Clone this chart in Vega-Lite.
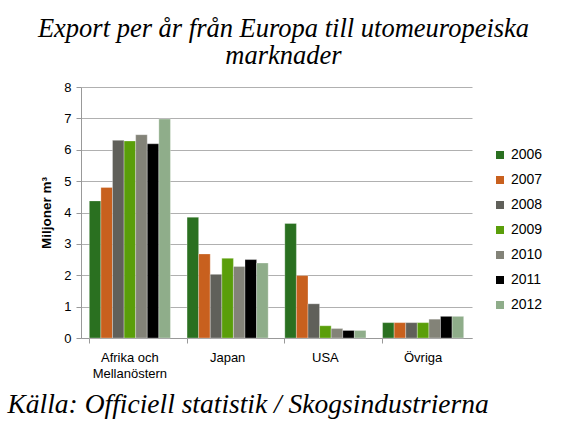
{
  "$schema": "https://vega.github.io/schema/vega-lite/v6.json",
  "width": 391,
  "height": 251,
  "autosize": {"type": "none"},
  "padding": {"left": 81, "top": 87, "right": 94, "bottom": 83},
  "background": "white",
  "title": {
    "text": ["Export per år från Europa till utomeuropeiska", "marknader"],
    "font": "Liberation Serif",
    "fontStyle": "italic",
    "fontWeight": "normal",
    "fontSize": 26.5,
    "lineHeight": 27,
    "color": "black",
    "anchor": "middle",
    "frame": "group",
    "dx": 7,
    "offset": 12
  },
  "data": {
    "values": [
      {"region": "Afrika och Mellanöstern", "year": "2006", "value": 4.37},
      {"region": "Afrika och Mellanöstern", "year": "2007", "value": 4.8},
      {"region": "Afrika och Mellanöstern", "year": "2008", "value": 6.3},
      {"region": "Afrika och Mellanöstern", "year": "2009", "value": 6.28},
      {"region": "Afrika och Mellanöstern", "year": "2010", "value": 6.48},
      {"region": "Afrika och Mellanöstern", "year": "2011", "value": 6.19},
      {"region": "Afrika och Mellanöstern", "year": "2012", "value": 6.98},
      {"region": "Japan", "year": "2006", "value": 3.85},
      {"region": "Japan", "year": "2007", "value": 2.68},
      {"region": "Japan", "year": "2008", "value": 2.03},
      {"region": "Japan", "year": "2009", "value": 2.54},
      {"region": "Japan", "year": "2010", "value": 2.28},
      {"region": "Japan", "year": "2011", "value": 2.5},
      {"region": "Japan", "year": "2012", "value": 2.39},
      {"region": "USA", "year": "2006", "value": 3.65},
      {"region": "USA", "year": "2007", "value": 1.99},
      {"region": "USA", "year": "2008", "value": 1.09},
      {"region": "USA", "year": "2009", "value": 0.39},
      {"region": "USA", "year": "2010", "value": 0.3},
      {"region": "USA", "year": "2011", "value": 0.24},
      {"region": "USA", "year": "2012", "value": 0.24},
      {"region": "Övriga", "year": "2006", "value": 0.49},
      {"region": "Övriga", "year": "2007", "value": 0.49},
      {"region": "Övriga", "year": "2008", "value": 0.49},
      {"region": "Övriga", "year": "2009", "value": 0.49},
      {"region": "Övriga", "year": "2010", "value": 0.6},
      {"region": "Övriga", "year": "2011", "value": 0.69},
      {"region": "Övriga", "year": "2012", "value": 0.69}
    ]
  },
  "mark": {"type": "bar", "stroke": "white", "strokeWidth": 0.5, "strokeOpacity": 0.6},
  "encoding": {
    "x": {
      "field": "region",
      "type": "nominal",
      "sort": null,
      "scale": {"paddingInner": 0.17, "paddingOuter": 0.085},
      "axis": {
        "title": "Källa: Officiell statistik / Skogsindustrierna",
        "titleFont": "Liberation Serif",
        "titleFontStyle": "italic",
        "titleFontWeight": "normal",
        "titleFontSize": 27.5,
        "titleColor": "black",
        "titleAnchor": "start",
        "titleAlign": "left",
        "titleBaseline": "alphabetic",
        "titleX": -74,
        "titleY": 74,
        "labelAngle": 0,
        "labelFont": "Liberation Sans",
        "labelFontSize": 13,
        "labelColor": "black",
        "labelPadding": 8,
        "labelExpr": "datum.value == 'Afrika och Mellanöstern' ? ['Afrika och', 'Mellanöstern'] : datum.value",
        "labelLineHeight": 16,
        "bandPosition": 0,
        "tickColor": "#999999",
        "tickSize": 5,
        "domainColor": "#999999",
        "grid": false
      }
    },
    "xOffset": {"field": "year", "type": "nominal"},
    "y": {
      "field": "value",
      "type": "quantitative",
      "scale": {"domain": [0, 8], "nice": false},
      "axis": {
        "title": "Miljoner m³",
        "titleFont": "Liberation Sans",
        "titleFontSize": 13.5,
        "titleFontWeight": "bold",
        "titleColor": "black",
        "titlePadding": 10,
        "values": [0, 1, 2, 3, 4, 5, 6, 7, 8],
        "labelFont": "Liberation Sans",
        "labelFontSize": 13,
        "labelColor": "black",
        "labelPadding": 5,
        "tickColor": "#999999",
        "tickSize": 5,
        "domainColor": "#999999",
        "gridColor": "#b0b0b0",
        "gridWidth": 1
      }
    },
    "color": {
      "field": "year",
      "type": "nominal",
      "scale": {
        "domain": ["2006", "2007", "2008", "2009", "2010", "2011", "2012"],
        "range": ["#2a7020", "#c8601e", "#60605a", "#5a9e0a", "#838378", "#000000", "#8fad8a"]
      },
      "legend": {
        "title": null,
        "orient": "none",
        "legendX": 412,
        "legendY": 61,
        "symbolType": "square",
        "symbolSize": 64,
        "symbolStrokeWidth": 0,
        "labelFont": "Liberation Sans",
        "labelFontSize": 14,
        "labelColor": "black",
        "labelOffset": 4,
        "rowPadding": 11
      }
    }
  },
  "config": {
    "view": {"stroke": null}
  }
}
